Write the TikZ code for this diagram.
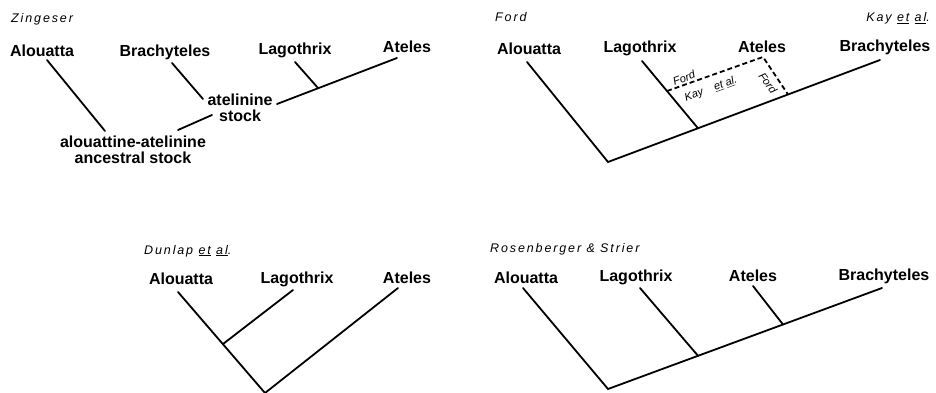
\documentclass[tikz,border=0pt]{standalone}
\usepackage{fontspec}
\setmainfont{Liberation Sans}
\newfontfamily\titlefont[LetterSpace=15]{Liberation Sans}
\tikzset{
  taxon/.style={font=\bfseries\fontsize{16}{16}\selectfont, inner sep=0pt, anchor=base},
  stocklab/.style={font=\bfseries\fontsize{16}{16}\selectfont, inner sep=0pt, align=center},
  ptitle/.style={font=\titlefont\itshape\fontsize{12.5}{14}\selectfont, inner sep=0pt, anchor=base west},
  inset/.style={font=\itshape\fontsize{11}{12}\selectfont, inner sep=0pt},
  branch/.style={line width=1.8pt, line cap=round},
  dashbranch/.style={line width=1.8pt, dash pattern=on 5pt off 3pt}
}
\begin{document}
\begin{tikzpicture}[x=1pt,y=-1pt]
\useasboundingbox (0,0) rectangle (936,393);

% ---------- Panel A: Zingeser ----------
\node[ptitle] (tA) at (11,23) {Zingeser};
\node[taxon] (A-alo) at (42,57) {Alouatta};
\node[taxon] (A-bra) at (165,57) {Brachyteles};
\node[taxon] (A-lag) at (295,55) {Lagothrix};
\node[taxon] (A-ate) at (407,53) {Ateles};
\node[stocklab] (A-stock) at (240,108) {atelinine\\stock};
\node[stocklab] (A-anc) at (133,150) {alouattine-atelinine\\ancestral stock};
\coordinate (A-alo-t) at (47,60);
\coordinate (A-alo-b) at (105,131);
\coordinate (A-bra-t) at (172,63);
\coordinate (A-bra-b) at (203,99);
\coordinate (A-st-r) at (277,104);
\coordinate (A-ate-t) at (397,58);
\coordinate (A-lag-t) at (295,62);
\coordinate (A-lag-j) at (318,88);
\coordinate (A-anc-r) at (178,130);
\coordinate (A-st-l) at (212,115);
\draw[branch] (A-alo-t) -- (A-alo-b);
\draw[branch] (A-bra-t) -- (A-bra-b);
\draw[branch] (A-st-r) -- (A-ate-t);
\draw[branch] (A-lag-t) -- (A-lag-j);
\draw[branch] (A-anc-r) -- (A-st-l);

% ---------- Panel B: Ford / Kay et al. ----------
\node[ptitle] (tB) at (495,22) {Ford};
\node[ptitle, anchor=base east] (tB2) at (930,22) {Kay \underline{et} \underline{al}.};
\node[taxon] (B-alo) at (529,55) {Alouatta};
\node[taxon] (B-lag) at (640,53) {Lagothrix};
\node[taxon] (B-ate) at (762,53) {Ateles};
\node[taxon] (B-bra) at (885,52) {Brachyteles};
\coordinate (B-alo-t) at (527,62);
\coordinate (B-root) at (608,162);
\coordinate (B-bra-t) at (880,60);
\coordinate (B-lag-t) at (642,61);
\coordinate (B-lag-j) at (698,128.3);
\coordinate (B-lag-k) at (667,91);
\coordinate (B-ate-t) at (763,57);
\coordinate (B-ate-j) at (788,94.5);
\draw[branch] (B-alo-t) -- (B-root) -- (B-bra-t);
\draw[branch] (B-lag-t) -- (B-lag-j);
\draw[dashbranch] (B-lag-k) -- (B-ate-t) -- (B-ate-j);
\node[inset, rotate=20] (B-f1) at (684,78) {Ford};
\node[inset, rotate=20] (B-kay) at (711,89) {Kay\hspace{12pt}\underline{et} \underline{al}.};
\node[inset, rotate=-54] (B-f2) at (768,83) {Ford};

% ---------- Panel C: Dunlap et al. ----------
\node[ptitle] (tC) at (144,254) {Dunlap \underline{et} \underline{al}.};
\node[taxon] (C-alo) at (181,284) {Alouatta};
\node[taxon] (C-lag) at (297,283) {Lagothrix};
\node[taxon] (C-ate) at (407,283) {Ateles};
\coordinate (C-alo-t) at (178,292);
\coordinate (C-root) at (265,393);
\coordinate (C-lag-t) at (293,290);
\coordinate (C-lag-j) at (223,344);
\coordinate (C-ate-t) at (398,288);
\draw[branch] (C-alo-t) -- (C-root) -- (C-ate-t);
\draw[branch] (C-lag-t) -- (C-lag-j);

% ---------- Panel D: Rosenberger & Strier ----------
\node[ptitle] (tD) at (490,252) {Rosenberger \& Strier};
\node[taxon] (D-alo) at (526,283) {Alouatta};
\node[taxon] (D-lag) at (636,281) {Lagothrix};
\node[taxon] (D-ate) at (753,281) {Ateles};
\node[taxon] (D-bra) at (884,280) {Brachyteles};
\coordinate (D-alo-t) at (523,288);
\coordinate (D-root) at (608,389);
\coordinate (D-bra-t) at (882,288);
\coordinate (D-lag-t) at (640,288);
\coordinate (D-lag-j) at (698,355.8);
\coordinate (D-ate-t) at (753,286);
\coordinate (D-ate-j) at (783,324.5);
\draw[branch] (D-alo-t) -- (D-root) -- (D-bra-t);
\draw[branch] (D-lag-t) -- (D-lag-j);
\draw[branch] (D-ate-t) -- (D-ate-j);
\end{tikzpicture}
\end{document}
